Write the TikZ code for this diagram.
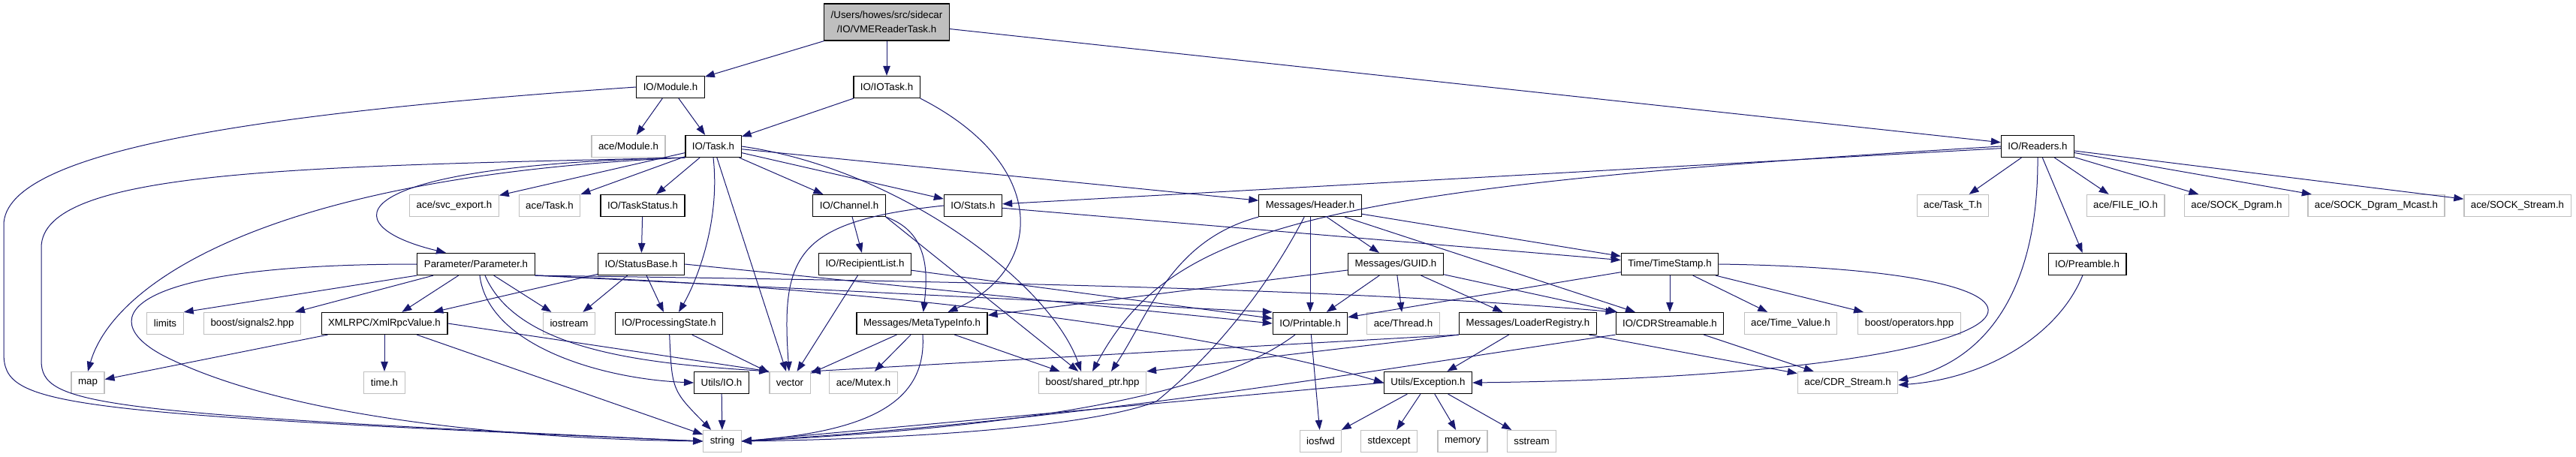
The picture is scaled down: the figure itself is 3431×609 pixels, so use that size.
\documentclass[tikz,border=0pt]{standalone}
\usepackage{fontspec}
\setmainfont{Liberation Sans}
\usetikzlibrary{arrows.meta,positioning}
\definecolor{edgeblue}{HTML}{191970}
\definecolor{extgray}{HTML}{BFBFBF}
\tikzset{
  hdr/.style={draw=black,line width=1.2pt,fill=white,inner xsep=9pt,inner ysep=0pt,
    minimum height=29pt,font=\fontsize{13.3}{19}\selectfont},   % documented header
  sys/.style={hdr,draw=extgray},                                % external header
  roothdr/.style={hdr,fill=extgray,minimum height=49pt,align=center},
  incl/.style={-{Triangle[length=13pt,width=9.5pt]},draw=edgeblue,line width=1pt}, % include edge
}
\begin{document}
\begin{tikzpicture}[x=1pt,y=-1pt]
  \useasboundingbox (0,0) rectangle (3431,609);
  \def\ya{116} \def\yb{195} \def\yc{274} \def\yd{352} \def\ye{431} \def\yf{510} \def\yg{588}
  % level 0 - 2
  \node[roothdr] (root) at (1181,29.5) {/Users/howes/src/sidecar\\/IO/VMEReaderTask.h};
  \node[hdr] (mod) at (893,\ya) {IO/Module.h};
  \node[hdr] (iotask) at (1181,\ya) {IO/IOTask.h};
  \node[sys] (acemod) at (837,\yb) {ace/Module.h};
  \node[hdr] (task) at (950,\yb) {IO/Task.h};
  \node[hdr] (readers) at (2714,\yb) {IO/Readers.h};
  % level 3
  \node[sys] (svcexp) at (605,\yc) {ace/svc\_export.h};
  \node[sys] (acetask) at (732,\yc) {ace/Task.h};
  \node[hdr] (tstatus) at (856,\yc) {IO/TaskStatus.h};
  \node[hdr] (channel) at (1131,\yc) {IO/Channel.h};
  \node[hdr] (stats) at (1296,\yc) {IO/Stats.h};
  \node[hdr] (header) at (1745,\yc) {Messages/Header.h};
  \node[sys] (taskt) at (2601,\yc) {ace/Task\_T.h};
  \node[sys] (fileio) at (2831,\yc) {ace/FILE\_IO.h};
  \node[sys] (dgram) at (2979,\yc) {ace/SOCK\_Dgram.h};
  \node[sys] (mcast) at (3165,\yc) {ace/SOCK\_Dgram\_Mcast.h};
  \node[sys] (sockstr) at (3353,\yc) {ace/SOCK\_Stream.h};
  % level 4
  \node[hdr] (param) at (634,\yd) {Parameter/Parameter.h};
  \node[hdr] (sbase) at (854,\yd) {IO/StatusBase.h};
  \node[hdr] (rlist) at (1152,\yd) {IO/RecipientList.h};
  \node[hdr] (guid) at (1859,\yd) {Messages/GUID.h};
  \node[hdr] (tstamp) at (2224,\yd) {Time/TimeStamp.h};
  \node[hdr] (preamble) at (2780,\yd) {IO/Preamble.h};
  % level 5
  \node[sys] (limits) at (220,\ye) {limits};
  \node[sys] (signals) at (336,\ye) {boost/signals2.hpp};
  \node[hdr] (xmlrpc) at (512,\ye) {XMLRPC/XmlRpcValue.h};
  \node[sys] (iostream) at (758,\ye) {iostream};
  \node[hdr] (pstate) at (891,\ye) {IO/ProcessingState.h};
  \node[hdr] (meta) at (1228,\ye) {Messages/MetaTypeInfo.h};
  \node[hdr] (print) at (1745,\ye) {IO/Printable.h};
  \node[sys] (thread) at (1869,\ye) {ace/Thread.h};
  \node[hdr] (loader) at (2035,\ye) {Messages/LoaderRegistry.h};
  \node[hdr] (cdrs) at (2224,\ye) {IO/CDRStreamable.h};
  \node[sys] (timeval) at (2385,\ye) {ace/Time\_Value.h};
  \node[sys] (ops) at (2543,\ye) {boost/operators.hpp};
  % level 6
  \node[sys] (map) at (117,\yf) {map};
  \node[sys] (timeh) at (512,\yf) {time.h};
  \node[hdr] (uio) at (961,\yf) {Utils/IO.h};
  \node[sys] (vector) at (1052,\yf) {vector};
  \node[sys] (mutex) at (1150,\yf) {ace/Mutex.h};
  \node[sys] (shptr) at (1455,\yf) {boost/shared\_ptr.hpp};
  \node[hdr] (exc) at (1902,\yf) {Utils/Exception.h};
  \node[sys] (cdr) at (2461,\yf) {ace/CDR\_Stream.h};
  % level 7
  \node[sys] (string) at (962,\yg) {string};
  \node[sys] (iosfwd) at (1759,\yg) {iosfwd};
  \node[sys] (stdexcept) at (1850,\yg) {stdexcept};
  \node[sys] (memory) at (1948,\yg) {memory};
  \node[sys] (sstr) at (2040,\yg) {sstream};
  % straight includes
  \foreach \a/\b in {root/mod,root/iotask,root/readers,mod/acemod,mod/task,iotask/task,
    task/svcexp,task/acetask,task/tstatus,task/channel,task/stats,task/header,task/vector,
    tstatus/sbase,channel/rlist,readers/stats,readers/taskt,readers/fileio,readers/dgram,
    readers/mcast,readers/sockstr,readers/preamble,stats/tstamp,header/guid,header/tstamp,
    header/cdrs,header/print,param/signals,param/xmlrpc,param/iostream,sbase/iostream,
    sbase/pstate,sbase/xmlrpc,rlist/vector,rlist/print,guid/meta,guid/print,guid/thread,
    guid/loader,guid/cdrs,tstamp/print,tstamp/cdrs,tstamp/timeval,tstamp/ops,xmlrpc/map,
    xmlrpc/timeh,xmlrpc/string,pstate/vector,meta/vector,meta/mutex,meta/shptr,print/iosfwd,
    loader/exc,loader/cdr,cdrs/cdr,uio/string,exc/iosfwd,exc/stdexcept,exc/memory,exc/sstr}
    \draw[incl] (\a) -- (\b);
  \draw[incl] (param.south west) -- (limits.north east);
  \draw[incl] (param.south east) -- (print.north west);
  \draw[incl] (sbase.east) -- (print.west);
  \draw[incl] (xmlrpc.east) -- (vector.north west);
  \draw[incl] (loader.south west) -- (vector.north east);
  \draw[incl] (loader.south west) -- (shptr.north east);
  \draw[incl] (channel.south east) -- (shptr);
  \draw[incl] (exc.west) -- (string.east);
  % long curved includes
  \draw[incl] (mod.west) .. controls (350,150) and (5,200) .. (5,300) -- (5,470)
    .. controls (5,540) and (60,550) .. (string.west);
  \draw[incl] (task.south west) .. controls (400,222) and (55,226) .. (55,330) -- (55,480)
    .. controls (55,540) and (120,550) .. (string.west);
  \draw[incl] (task.south west) .. controls (450,220) and (440,300) .. ([xshift=-40pt]param.north);
  \draw[incl] (task.south west) .. controls (350,235) and (150,380) .. (map.north);
  \draw[incl] (task.south) .. controls (960,300) and (925,380) .. ([xshift=13pt]pstate.north);
  \draw[incl] (task.east) .. controls (1200,225) and (1400,380) .. ([xshift=-15pt]shptr.north);
  \draw[incl] (iotask.south east) .. controls (1400,220) and (1390,360) .. (meta);
  \draw[incl] (channel.south east) .. controls (1240,310) and (1235,370) .. (meta);
  \draw[incl] (stats.west) .. controls (1060,295) and (1040,340) .. (vector);
  \draw[incl] (readers.west) .. controls (1750,250) and (1560,300) .. (shptr.north);
  \draw[incl] (readers.south) .. controls (2715,380) and (2650,480) .. ([yshift=3pt]cdr.east);
  \draw[incl] (preamble) .. controls (2740,450) and (2640,505) .. ([yshift=-3pt]cdr.east);
  \draw[incl] (header.south west) .. controls (1560,320) and (1530,420) .. ([xshift=25pt]shptr.north);
  \draw[incl] (header) .. controls (1690,380) and (1620,470) .. (1540,535)
    .. controls (1450,570) and (1200,585) .. (string.east);
  \draw[incl] (param.west) .. controls (150,352) and (120,430) .. (230,480)
    .. controls (400,560) and (700,585) .. (string.west);
  \draw[incl] ([xshift=5pt]param.south) .. controls (650,460) and (800,505) .. (uio.west);
  \draw[incl] ([xshift=12pt]param.south) .. controls (690,470) and (870,485) .. (vector.north west);
  \draw[incl] (param.south east) .. controls (1300,375) and (1800,385) .. (cdrs.north west);
  \draw[incl] (param.south east) .. controls (1200,385) and (1600,440) .. (exc.west);
  \draw[incl] (pstate) .. controls (895,520) .. (string);
  \draw[incl] (meta) .. controls (1235,540) and (1150,575) .. (string.east);
  \draw[incl] (print) .. controls (1640,510) and (1450,565) .. (string.east);
  \draw[incl] (cdrs.south west) .. controls (1850,490) and (1450,560) .. (string.east);
  \draw[incl] (tstamp.east) .. controls (2850,360) and (2760,500) .. (exc.east);
\end{tikzpicture}
\end{document}
